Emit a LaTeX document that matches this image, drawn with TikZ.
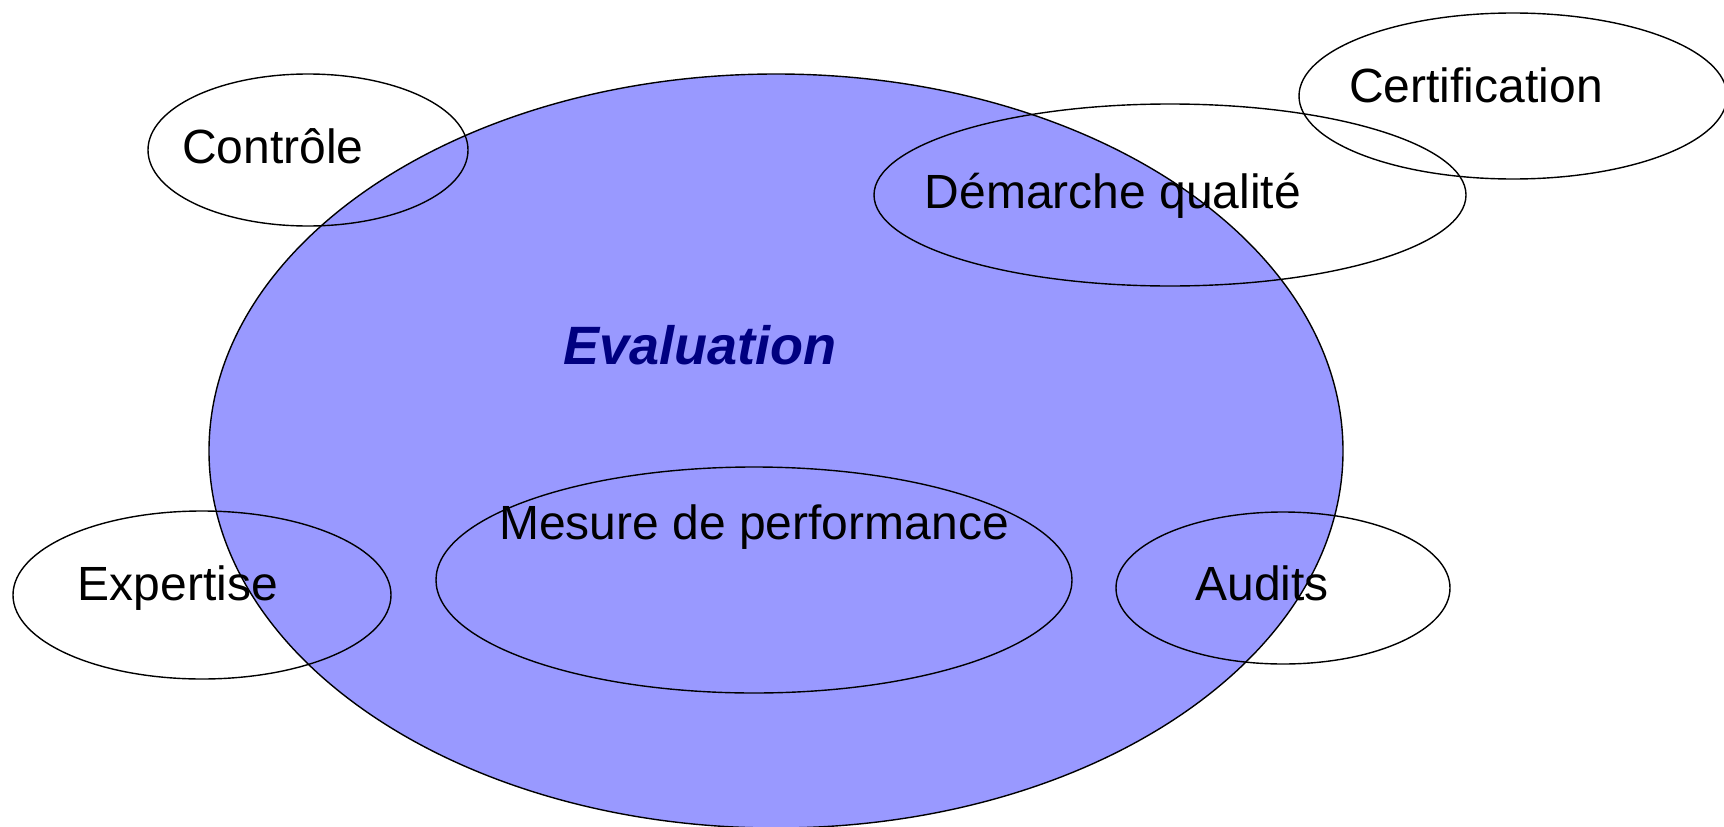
\documentclass[tikz,border=0pt]{standalone}
\usepackage{fontspec}
\setmainfont{Liberation Sans}
\usetikzlibrary{shapes.geometric}
\definecolor{evalfill}{HTML}{9999FF}
\definecolor{evaltext}{HTML}{000080}
\tikzset{
  ell/.style={ellipse, draw=black, line width=1.4pt, inner sep=0pt},
  lbl/.style={anchor=base, inner sep=0pt, font=\fontsize{48}{56}\selectfont},
}
\begin{document}
\begin{tikzpicture}[x=1pt, y=-1pt]
\useasboundingbox (0,0) rectangle (1724,827);
% main ellipse
\node[ell, fill=evalfill, minimum width=1134pt, minimum height=754pt] (eval) at (776,451) {};
% small ellipses
\node[ell, minimum width=320pt, minimum height=152pt] (ctrl) at (308,150) {};
\node[ell, minimum width=428pt, minimum height=166pt] (cert) at (1513,96) {};
\node[ell, minimum width=592pt, minimum height=182pt] (dq) at (1170,195) {};
\node[ell, minimum width=378pt, minimum height=168pt] (exp) at (202,595) {};
\node[ell, minimum width=636pt, minimum height=226pt] (mes) at (754,580) {};
\node[ell, minimum width=334pt, minimum height=152pt] (aud) at (1283,588) {};
% labels
\node[lbl] (tctrl) at (273,163) {Contrôle};
\node[lbl] (tcert) at (1476,102) {Certification};
\node[lbl] (tdq) at (1113,208) {Démarche qualité};
\node[lbl, text=evaltext, font=\fontsize{54}{62}\selectfont\bfseries\itshape] (teval) at (700,364) {Evaluation};
\node[lbl] (texp) at (178,600) {Expertise};
\node[lbl] (tmes) at (754,539) {Mesure de performance};
\node[lbl] (taud) at (1262,600) {Audits};
\end{tikzpicture}
\end{document}
